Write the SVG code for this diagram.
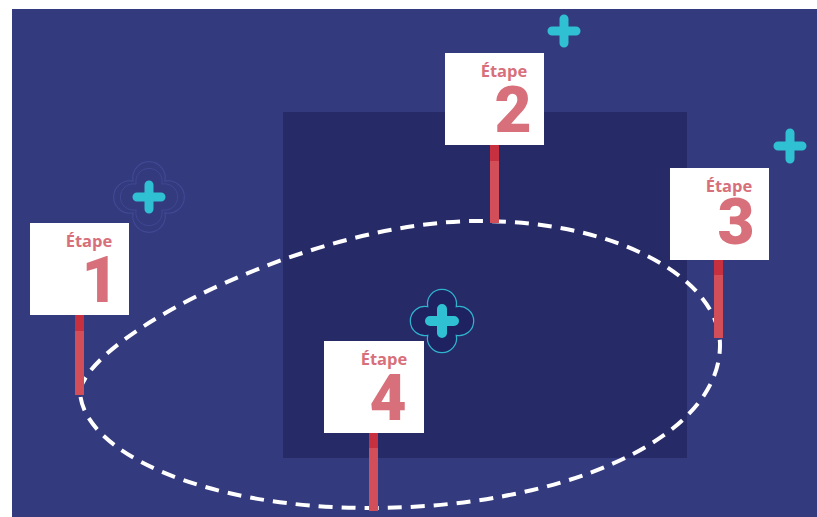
<svg xmlns="http://www.w3.org/2000/svg" xmlns:xlink="http://www.w3.org/1999/xlink" width="817" height="517" viewBox="0 0 817 517">
  <style>
    .board { fill: #ffffff; }
    .pole { fill: #d24f59; }
    .poletop { fill: #c6303f; }
    .label { fill: #d7707a; text-anchor: middle; }
    .etape { font-family: "Open Sans", "Liberation Sans", sans-serif; font-weight: 700; font-size: 16.5px; }
    .num { font-family: Roboto, "Liberation Sans", sans-serif; font-weight: 900; font-size: 64px; }
    .plus { stroke: #2fc0d3; stroke-width: 9; stroke-linecap: round; fill: none; }
    .ring { fill: none; stroke: #414994; stroke-width: 1; vector-effect: non-scaling-stroke; }
    .path { fill: none; stroke: #ffffff; stroke-width: 4; stroke-dasharray: 14 9; stroke-linecap: butt; }
  </style>
  <defs>
    <path id="clover" d="M 13.73 -13.73 A 14 14 0 1 0 -13.73 -13.73 A 14 14 0 1 0 -13.73 13.73 A 14 14 0 1 0 13.73 13.73 A 14 14 0 1 0 13.73 -13.73 Z"/>
  </defs>

  <rect x="0" y="0" width="817" height="517" fill="#ffffff"/>
  <rect x="12" y="9" width="805" height="508" fill="#333a7d"/>
  <rect x="283" y="112" width="404" height="346" fill="#262a67"/>

  <g id="connectors">
    <path class="path" d="M 80 390 C 95 330 320 220 480 221 C 620 221 720 280 720 345 C 720 440 560 508 370 508 C 200 508 80 450 80 390 Z"/>
  </g>

  <g id="plus1">
    <use xlink:href="#clover" class="ring" transform="translate(149 197) scale(1.16)"/>
    <use xlink:href="#clover" class="ring" transform="translate(149 197) scale(0.94)"/>
    <path class="plus" d="M 137 197 H 161 M 149 185 V 209"/>
  </g>
  <g id="plus2">
    <path class="plus" d="M 552 31 H 576 M 564 19 V 43"/>
  </g>
  <g id="plus3">
    <path class="plus" d="M 778 146 H 802 M 790 133 V 159"/>
  </g>
  <g id="plus4">
    <use xlink:href="#clover" transform="translate(442 321) scale(1.04)" style="fill:#1e2260;stroke:#2fb3cf;stroke-width:1.2;vector-effect:non-scaling-stroke"/>
    <path class="plus" d="M 430 321 H 454 M 442 309 V 333" style="stroke-width:10"/>
  </g>

  <g id="etape1">
    <rect class="pole" x="75" y="315" width="9" height="80"/>
    <rect class="poletop" x="75" y="315" width="9" height="16"/>
    <rect class="board" x="30" y="223" width="99" height="92"/>
    <text class="label etape" x="89" y="247">Étape</text>
    <text class="label num" x="100" y="302">1</text>
  </g>
  <g id="etape2">
    <rect class="pole" x="490" y="145" width="9" height="78"/>
    <rect class="poletop" x="490" y="145" width="9" height="16"/>
    <rect class="board" x="445" y="53" width="99" height="92"/>
    <text class="label etape" x="504" y="77">Étape</text>
    <text class="label num" x="513" y="132">2</text>
  </g>
  <g id="etape3">
    <rect class="pole" x="714" y="259" width="9" height="79"/>
    <rect class="poletop" x="714" y="259" width="9" height="16"/>
    <rect class="board" x="670" y="168" width="99" height="92"/>
    <text class="label etape" x="729" y="192">Étape</text>
    <text class="label num" x="736" y="244">3</text>
  </g>
  <g id="etape4">
    <rect class="pole" x="369" y="432" width="9" height="79"/>
    <rect class="poletop" x="369" y="432" width="9" height="16"/>
    <rect class="board" x="324" y="341" width="100" height="92"/>
    <text class="label etape" x="384" y="365">Étape</text>
    <text class="label num" x="388" y="420">4</text>
  </g>
</svg>
